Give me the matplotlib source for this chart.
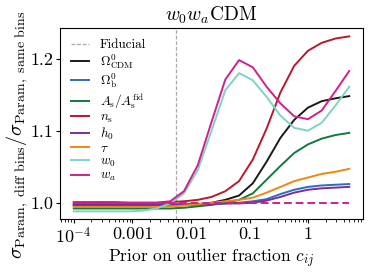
import numpy as np
import matplotlib
matplotlib.use('Agg')
from matplotlib import pyplot as plt

plt.rcParams['font.family'] = 'serif'
plt.rcParams['font.serif'] = ['cmr10']
plt.rcParams['mathtext.fontset'] = 'cm'
plt.rcParams['axes.formatter.use_mathtext'] = True

# prior on outlier fraction (log spaced grid)
prior = [1.0e-4, 1.718e-4, 2.951e-4, 5.07e-4, 8.71e-4, 1.496e-3, 2.57e-3,
         4.415e-3, 7.585e-3, 1.303e-2, 2.236e-2, 3.843e-2, 6.60e-2, 0.1134,
         0.1948, 0.3346, 0.5748, 0.9875, 1.696, 2.913, 5.0]
fiducial = 0.0055

om_cdm = [0.996, 0.996, 0.996, 0.996, 0.996, 0.996, 0.996, 0.996, 0.997, 0.998, 1.000,
          1.004, 1.010, 1.027, 1.057, 1.090, 1.115, 1.132, 1.141, 1.145, 1.148]
om_b = [0.997, 0.997, 0.997, 0.997, 0.997, 0.997, 0.997, 0.997, 0.997, 0.997, 0.998,
        0.999, 1.000, 1.002, 1.005, 1.012, 1.018, 1.022, 1.024, 1.025, 1.026]
a_s = [0.992, 0.992, 0.992, 0.992, 0.992, 0.992, 0.992, 0.992, 0.993, 0.995, 0.997,
       1.000, 1.004, 1.013, 1.032, 1.051, 1.069, 1.081, 1.089, 1.094, 1.097]
n_s = [1.000, 1.000, 1.000, 1.000, 1.000, 1.000, 1.000, 1.001, 1.002, 1.004, 1.008,
       1.016, 1.030, 1.060, 1.103, 1.153, 1.190, 1.211, 1.222, 1.228, 1.231]
h0 = [0.998, 0.998, 0.998, 0.998, 0.998, 0.998, 0.998, 0.998, 0.998, 0.998, 0.998,
      0.999, 0.999, 1.000, 1.003, 1.008, 1.014, 1.018, 1.020, 1.021, 1.022]
tau = [0.994, 0.994, 0.994, 0.994, 0.994, 0.994, 0.994, 0.995, 0.996, 0.998, 1.000,
       1.002, 1.004, 1.007, 1.014, 1.022, 1.030, 1.035, 1.040, 1.043, 1.047]
w0 = [0.988, 0.988, 0.988, 0.988, 0.988, 0.989, 0.992, 0.999, 1.013, 1.045, 1.100,
      1.156, 1.180, 1.170, 1.147, 1.121, 1.104, 1.100, 1.111, 1.135, 1.161]
wa = [1.001, 1.001, 1.001, 1.001, 1.000, 1.000, 1.000, 1.002, 1.016, 1.052, 1.112,
      1.171, 1.198, 1.188, 1.161, 1.138, 1.120, 1.116, 1.128, 1.155, 1.183]

params = [om_cdm, om_b, a_s, n_s, h0, tau, w0, wa]
labels = [r'$\Omega^0_{\rm CDM}$', r'$\Omega^0_{\rm b}$', r'$A_{\rm s}/A_{\rm s}^{\rm fid}$',
          r'$n_{\rm s}$', r'$h_0$', r'$\tau$', r'$w_0$', r'$w_a$']
colors = ['#1a1a1a', '#2b6cc4', '#0f7a3c', '#b8192e', '#7a2e9a', '#f0880f', '#7fd3c4', '#d0208c']

fig = plt.figure(figsize=(3.74, 2.73), dpi=100)
ax = fig.add_axes([0.1604, 0.1967, 0.8102, 0.7018])

ax.axvline(fiducial, color='#aaaaaa', linestyle='--', linewidth=0.9, dashes=(3, 1.5), label='Fiducial')
for vals, lab, c in zip(params, labels, colors):
    ax.plot(prior, vals, color=c, linewidth=1.4, label=lab)
ax.plot(prior, np.ones(len(prior)), color=colors[-1], linestyle='--', linewidth=1.4, dashes=(4, 2))

ax.set_xscale('log')
ax.set_xticks([1e-4, 1e-3, 1e-2, 1e-1, 1])
ax.set_xticklabels([r'$10^{-4}$', '0.001', '0.01', '0.1', '1'])
ax.set_yticks([1.0, 1.1, 1.2])
ax.set_yticklabels(['1.0', '1.1', '1.2'])
ax.set_ylim(0.977, 1.243)
ax.tick_params(labelsize=13, length=3, width=0.8, pad=2)
ax.tick_params(which='minor', length=1.8, width=0.6)

ax.set_xlabel(r'Prior on outlier fraction $c_{ij}$', fontsize=12.5, labelpad=0)
ax.set_ylabel(r'$\sigma_{\rm Param,\ diff\ bins}/\sigma_{\rm Param,\ same\ bins}$', fontsize=14.5, labelpad=1)
ax.yaxis.set_label_coords(-0.1, 0.44)
ax.set_title(r'$w_0w_a$CDM', fontsize=14, pad=5)

ax.legend(loc='upper left', frameon=False, fontsize=9.5, handlelength=1.35, handletextpad=0.8,
          labelspacing=0.06, borderaxespad=0.55, borderpad=0.3)

plt.savefig('out.png', dpi=100)
